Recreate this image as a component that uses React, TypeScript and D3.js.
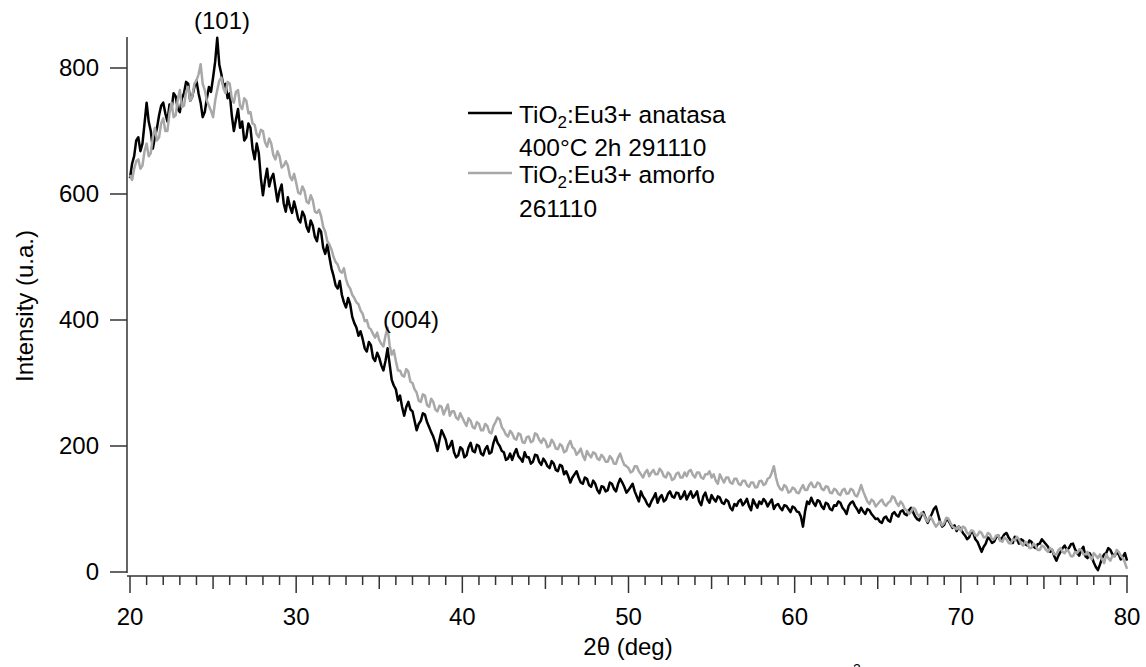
import React from "react";
import * as d3 from "d3";

// 2θ grid: 20° to 80°, evenly spaced samples (0.125° step)
const X_MIN = 20;
const X_MAX = 80;

// TiO2:Eu3+ anatasa 400°C 2h 291110 (black)
const anatasa: number[] = [
  625, 648, 660, 685, 690, 668, 680, 712, 745, 715, 700, 672, 690, 705, 725, 740, 745, 728, 715, 742, 735, 760, 755, 735, 730, 752, 760, 778, 775, 748, 755, 770, 780, 760, 745, 722, 730, 752, 770, 762,
  785, 810, 848, 805, 790, 770, 775, 752, 760, 725, 700, 718, 735, 705, 715, 685, 690, 712, 705, 672, 655, 680, 665, 625, 598, 622, 640, 612, 625, 632, 610, 588, 605, 615, 585, 572, 595, 580, 570, 588,
  575, 560, 555, 572, 565, 548, 540, 558, 550, 532, 525, 545, 540, 515, 505, 520, 500, 482, 470, 455, 450, 462, 440, 428, 420, 435, 425, 405, 395, 388, 375, 382, 370, 355, 350, 365, 360, 340, 335, 348,
  340, 328, 320, 335, 355, 330, 305, 296, 290, 272, 280, 262, 248, 262, 270, 258, 255, 240, 225, 235, 240, 252, 250, 238, 230, 222, 215, 205, 192, 210, 225, 218, 210, 195, 200, 208, 190, 182, 185, 198,
  195, 182, 185, 198, 205, 192, 190, 202, 200, 188, 185, 195, 200, 188, 190, 205, 215, 205, 200, 192, 190, 178, 180, 188, 178, 188, 195, 184, 180, 175, 190, 182, 182, 172, 175, 186, 185, 175, 170, 180,
  175, 168, 165, 176, 172, 162, 160, 170, 168, 155, 160, 152, 142, 150, 155, 160, 150, 142, 140, 150, 148, 138, 135, 145, 140, 130, 125, 136, 135, 128, 130, 142, 140, 132, 128, 140, 148, 142, 135, 126,
  130, 135, 140, 128, 120, 112, 128, 120, 115, 108, 104, 112, 118, 125, 110, 118, 122, 112, 115, 124, 128, 120, 118, 126, 125, 116, 120, 128, 115, 122, 128, 118, 122, 128, 112, 106, 120, 126, 115, 110,
  122, 116, 112, 120, 118, 110, 108, 115, 112, 102, 98, 108, 105, 112, 115, 106, 110, 116, 105, 98, 115, 108, 102, 112, 108, 116, 112, 104, 110, 115, 100, 106, 108, 102, 98, 106, 105, 100, 95, 104,
  102, 96, 95, 88, 72, 96, 112, 108, 118, 110, 105, 114, 112, 104, 100, 110, 108, 100, 98, 106, 105, 112, 110, 102, 98, 92, 105, 110, 112, 105, 100, 94, 102, 96, 92, 100, 98, 92, 88, 84,
  85, 80, 78, 86, 88, 82, 80, 92, 95, 90, 88, 96, 98, 92, 90, 98, 102, 95, 88, 84, 82, 90, 95, 86, 78, 85, 92, 100, 104, 92, 80, 72, 75, 84, 82, 76, 70, 74, 65, 72,
  68, 62, 58, 52, 55, 64, 62, 52, 48, 40, 32, 40, 45, 55, 52, 46, 48, 55, 58, 50, 55, 60, 62, 55, 50, 46, 56, 52, 45, 52, 50, 44, 42, 50, 48, 40, 38, 44, 45, 52,
  48, 44, 40, 32, 35, 25, 18, 26, 32, 38, 42, 35, 38, 44, 45, 36, 30, 26, 35, 40, 25, 22, 30, 24, 15, 8, 3, 12, 22, 28, 30, 38, 35, 28, 25, 32, 28, 20, 24, 30,
  18,
];

// TiO2:Eu3+ amorfo 261110 (gray)
const amorfo: number[] = [
  630, 622, 640, 652, 655, 640, 645, 668, 680, 660, 665, 690, 705, 685, 690, 712, 720, 700, 700, 728, 745, 722, 725, 750, 765, 738, 740, 762, 770, 748, 755, 775, 780, 790, 806, 775, 765, 748, 740, 732,
  722, 748, 765, 780, 785, 768, 760, 778, 775, 752, 745, 762, 765, 740, 735, 752, 748, 728, 730, 712, 710, 695, 690, 702, 700, 682, 675, 688, 680, 662, 655, 668, 660, 642, 645, 652, 645, 628, 622, 632,
  618, 602, 600, 612, 605, 588, 585, 598, 590, 572, 570, 575, 565, 548, 540, 525, 520, 512, 500, 492, 488, 478, 475, 482, 465, 455, 450, 440, 435, 428, 425, 415, 410, 398, 400, 388, 385, 378, 372, 380,
  368, 362, 358, 375, 388, 360, 345, 352, 335, 320, 320, 312, 310, 322, 318, 302, 300, 290, 285, 272, 270, 282, 280, 265, 262, 275, 270, 258, 255, 264, 262, 250, 258, 266, 248, 255, 255, 245, 242, 252,
  245, 238, 232, 244, 240, 230, 228, 238, 235, 225, 225, 235, 232, 222, 220, 232, 238, 245, 242, 230, 225, 218, 215, 224, 220, 212, 210, 220, 218, 206, 205, 214, 215, 206, 208, 220, 218, 210, 205, 212,
  208, 198, 200, 210, 205, 196, 195, 203, 200, 190, 192, 202, 208, 198, 195, 186, 190, 196, 185, 178, 192, 186, 182, 190, 188, 180, 178, 186, 182, 175, 175, 184, 180, 172, 172, 182, 188, 178, 170, 168,
  165, 158, 160, 168, 168, 160, 155, 150, 158, 162, 152, 158, 162, 155, 155, 164, 160, 152, 150, 158, 155, 146, 148, 156, 158, 150, 150, 158, 152, 160, 162, 154, 150, 158, 158, 150, 148, 155, 155, 160,
  150, 155, 145, 140, 155, 148, 142, 150, 150, 142, 140, 148, 148, 140, 138, 145, 145, 138, 135, 142, 142, 134, 135, 144, 145, 138, 140, 148, 150, 158, 168, 150, 138, 132, 130, 138, 135, 126, 128, 134,
  132, 126, 125, 132, 138, 130, 130, 138, 142, 135, 135, 142, 140, 132, 130, 136, 135, 126, 125, 132, 130, 124, 122, 130, 132, 124, 125, 132, 130, 122, 120, 128, 138, 128, 120, 112, 108, 115, 112, 104,
  108, 112, 115, 108, 105, 110, 112, 120, 118, 110, 105, 112, 108, 100, 98, 92, 95, 102, 100, 92, 88, 94, 92, 85, 80, 88, 85, 78, 72, 76, 80, 74, 78, 86, 85, 78, 72, 70, 68, 72,
  65, 72, 70, 62, 60, 66, 65, 58, 58, 64, 62, 55, 55, 62, 60, 52, 52, 58, 58, 50, 48, 55, 52, 46, 45, 52, 50, 56, 52, 45, 42, 48, 45, 38, 38, 45, 42, 35, 35, 42,
  40, 35, 32, 38, 35, 28, 28, 35, 38, 32, 30, 36, 32, 25, 25, 32, 30, 36, 35, 28, 28, 32, 25, 20, 30, 26, 22, 28, 20, 14, 28, 22, 18, 26, 25, 35, 32, 26, 22, 15,
  5,
];

const xTickLabels = [20, 30, 40, 50, 60, 70, 80];
const yTickLabels = [0, 200, 400, 600, 800];
const legendItems = [
  { main: "TiO", sub: "2", rest: ":Eu3+ anatasa", second: "400°C 2h 291110", color: "#000000" },
  { main: "TiO", sub: "2", rest: ":Eu3+ amorfo", second: "261110", color: "#a8a8a8" },
];

const W = 1146;
const H = 667;
const FONT = "'Liberation Sans', Arial, Helvetica, sans-serif";

export default function App() {
  const x = d3.scaleLinear().domain([X_MIN, X_MAX]).range([130, 1127]);
  const y = d3.scaleLinear().domain([0, 800]).range([572, 68]);
  const mkLine = (arr: number[]) =>
    d3
      .line<number>()
      .x((_, i) => x(X_MIN + (i * (X_MAX - X_MIN)) / (arr.length - 1)))
      .y((d) => y(d))(arr) || "";

  const minorTicks = d3.range(20, 81, 1);
  const axisColor = "#333";

  return (
    <svg
      width={W}
      height={H}
      style={{ position: "absolute", left: 0, top: 0, background: "#fff" }}
      fontFamily={FONT}
    >
      {/* data */}
      <path d={mkLine(anatasa)} fill="none" stroke="#000" strokeWidth={2.5} strokeLinejoin="round" />
      <path d={mkLine(amorfo)} fill="none" stroke="#a8a8a8" strokeWidth={2.5} strokeLinejoin="round" />

      {/* y axis */}
      <line x1={127} x2={127} y1={37} y2={573} stroke={axisColor} strokeWidth={1.5} />
      {yTickLabels.map((v) => (
        <g key={v}>
          <line x1={110} x2={127} y1={y(v)} y2={y(v)} stroke={axisColor} strokeWidth={1.5} />
          <text x={99} y={y(v)} dy="0.35em" textAnchor="end" fontSize={24} fill="#000">
            {v}
          </text>
        </g>
      ))}

      {/* x axis */}
      <line x1={127} x2={x(80) + 1} y1={576} y2={576} stroke={axisColor} strokeWidth={1.5} />
      {minorTicks.map((v) => {
        const len = v % 10 === 0 ? 17 : v % 5 === 0 ? 13 : 9;
        return (
          <line key={v} x1={x(v)} x2={x(v)} y1={576} y2={576 + len} stroke={axisColor} strokeWidth={1.5} />
        );
      })}
      {xTickLabels.map((v) => (
        <text key={v} x={x(v)} y={625} textAnchor="middle" fontSize={24} fill="#000">
          {v}
        </text>
      ))}

      {/* axis titles */}
      <text x={628} y={655} textAnchor="middle" fontSize={24} fill="#000">
        2θ (deg)
      </text>
      <text transform={`translate(33, 306) rotate(-90)`} textAnchor="middle" fontSize={24} fill="#000">
        Intensity (u.a.)
      </text>
      {/* clipped stray superscript at the bottom edge */}
      <text x={857} y={674} textAnchor="middle" fontSize={14} fill="#000">
        2
      </text>

      {/* peak annotations */}
      <text x={222} y={29} textAnchor="middle" fontSize={24} fill="#000">
        (101)
      </text>
      <text x={411} y={328} textAnchor="middle" fontSize={24} fill="#000">
        (004)
      </text>

      {/* legend */}
      {legendItems.map((it, i) => {
        const base = i === 0 ? 123 : 183;
        const second = i === 0 ? 156 : 217;
        return (
          <g key={i}>
            <line x1={468} x2={512} y1={base - 10} y2={base - 10} stroke={it.color} strokeWidth={2.5} />
            <text x={519} y={base} fontSize={24.5} fill="#000">
              {it.main}
              <tspan fontSize={17} dy={5}>
                {it.sub}
              </tspan>
              <tspan dy={-5}>{it.rest}</tspan>
            </text>
            <text x={519} y={second} fontSize={24.5} fill="#000">
              {it.second}
            </text>
          </g>
        );
      })}
    </svg>
  );
}
